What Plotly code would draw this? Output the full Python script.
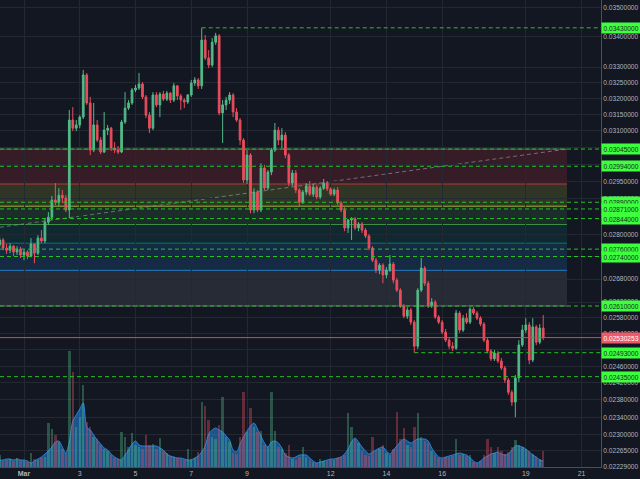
import numpy as np
import pandas as pd
import plotly.graph_objects as go

# ---------------- data (prices in units of 1e-5) ----------------
PRICE_UNIT = 1e-5
START = "2018-02-28 03:00"
FREQ = "3h"
first_open = 2771

close_ = [
    2785, 2763, 2757, 2768, 2752, 2760, 2744, 2752, 2741, 2774,
    2749, 2790, 2782, 2834, 2848, 2896, 2890, 2910, 2902, 2868,
    3133, 3108, 3118, 3142, 3275, 3186, 3042, 3118, 3072, 3036,
    3102, 3108, 3048, 3042, 3036, 3127, 3170, 3186, 3227, 3233,
    3246, 3205, 3148, 3108, 3211, 3180, 3214, 3198, 3217, 3195,
    3240, 3208, 3195, 3189, 3211, 3249, 3259, 3240, 3389, 3330,
    3307, 3382, 3403, 3155, 3180, 3195, 3211, 3158, 3133, 3072,
    2954, 3027, 2868, 2919, 2868, 2989, 2931, 2977, 3042, 3102,
    3072, 3087, 3027, 2945, 2974, 2925, 2890, 2919, 2936, 2913,
    2933, 2905, 2930, 2945, 2928, 2913, 2925, 2888, 2868, 2818,
    2840, 2843, 2818, 2829, 2812, 2796, 2763, 2730, 2704, 2717,
    2691, 2704, 2720, 2677, 2651, 2610, 2584, 2600, 2569, 2509,
    2651, 2709, 2669, 2612, 2620, 2582, 2569, 2544, 2524, 2509,
    2504, 2592, 2549, 2579, 2569, 2602, 2592, 2579, 2564, 2524,
    2497, 2478, 2492, 2473, 2456, 2427, 2398, 2375, 2432, 2512,
    2549, 2562, 2475, 2557, 2519, 2554, 2530,
]
high_ = [
    2796, 2790, 2774, 2776, 2771, 2768, 2766, 2760, 2757, 2790,
    2776, 2798, 2812, 2845, 2862, 2908, 2945, 2930, 2925, 2910,
    3164, 3173, 3133, 3148, 3291, 3281, 3205, 3186, 3133, 3081,
    3158, 3118, 3112, 3066, 3054, 3133, 3220, 3195, 3233, 3243,
    3281, 3252, 3211, 3158, 3220, 3220, 3220, 3224, 3224, 3220,
    3249, 3243, 3214, 3201, 3214, 3259, 3268, 3265, 3430, 3406,
    3356, 3396, 3413, 3409, 3195, 3205, 3220, 3217, 3170, 3139,
    3078, 3042, 3033, 2930, 2925, 3003, 2998, 2983, 3048, 3124,
    3112, 3108, 3096, 3033, 2983, 2983, 2930, 2925, 2945, 2951,
    2942, 2939, 2936, 2957, 2951, 2933, 2930, 2933, 2893, 2876,
    2843, 2848, 2848, 2834, 2834, 2818, 2801, 2768, 2736, 2722,
    2722, 2712, 2744, 2725, 2683, 2656, 2615, 2607, 2605, 2574,
    2656, 2736, 2714, 2675, 2630, 2625, 2587, 2574, 2552, 2529,
    2519, 2600, 2597, 2587, 2592, 2607, 2607, 2597, 2584, 2569,
    2529, 2502, 2500, 2497, 2480, 2461, 2432, 2403, 2439, 2524,
    2562, 2579, 2569, 2579, 2562, 2564, 2587,
]
low_ = [
    2763, 2757, 2747, 2749, 2741, 2744, 2736, 2730, 2733, 2738,
    2722, 2744, 2776, 2776, 2826, 2840, 2882, 2879, 2888, 2862,
    2845, 3099, 3099, 3108, 3136, 3180, 3027, 3036, 3066, 3030,
    3033, 3087, 3039, 3033, 3030, 3033, 3121, 3164, 3180, 3220,
    3227, 3198, 3139, 3093, 3102, 3173, 3142, 3192, 3192, 3186,
    3189, 3195, 3164, 3170, 3183, 3205, 3240, 3230, 3230, 3323,
    3297, 3300, 3373, 3148, 3063, 3164, 3183, 3142, 3127, 3057,
    2945, 2942, 2859, 2859, 2862, 2862, 2925, 2925, 2968, 3036,
    3057, 3048, 3018, 2936, 2936, 2916, 2879, 2885, 2910, 2908,
    2905, 2899, 2899, 2925, 2922, 2908, 2908, 2882, 2862, 2809,
    2804, 2785, 2812, 2809, 2804, 2790, 2757, 2725, 2696, 2693,
    2669, 2682, 2699, 2669, 2646, 2605, 2579, 2577, 2562, 2493,
    2502, 2646, 2662, 2605, 2605, 2577, 2564, 2539, 2519, 2502,
    2497, 2500, 2542, 2544, 2564, 2564, 2587, 2574, 2559, 2519,
    2492, 2473, 2473, 2468, 2451, 2420, 2392, 2366, 2340, 2422,
    2507, 2542, 2465, 2470, 2512, 2514, 2524,
]
volume = [
    12, 6, 7, 8, 6, 9, 7, 6, 5, 14,
    8, 7, 9, 10, 44, 38, 32, 25, 18, 14,
    116, 95, 40, 50, 82, 45, 40, 30, 28, 22,
    18, 16, 12, 9, 8, 35, 30, 20, 34, 22,
    20, 18, 32, 22, 23, 18, 29, 16, 14, 11,
    10, 9, 8, 7, 18, 8, 9, 15, 65, 61,
    47, 30, 28, 42, 70, 30, 25, 14, 13, 30,
    75, 35, 59, 40, 35, 36, 22, 20, 75, 36,
    20, 18, 14, 22, 8, 7, 10, 20, 10, 7,
    5, 4, 8, 6, 6, 7, 7, 9, 10, 12,
    54, 40, 28, 24, 16, 12, 11, 30, 16, 18,
    22, 14, 12, 18, 55, 28, 39, 22, 20, 40,
    54, 30, 26, 24, 16, 12, 9, 8, 10, 10,
    11, 28, 12, 13, 11, 12, 5, 4, 6, 12,
    28, 20, 14, 20, 16, 13, 15, 20, 27, 22,
    20, 18, 16, 13, 10, 8, 16,
]
volume_ma = [
    7, 7, 8, 8, 7, 8, 7, 7, 6, 4,
    6, 8, 10, 13, 16, 20, 25, 26, 20, 14,
    25, 46, 52, 58, 64, 40, 37, 32, 27, 23,
    19, 17, 13, 10, 8, 7, 12, 17, 23, 26,
    22, 21, 21, 21, 21, 21, 19, 17, 13, 11,
    10, 9, 9, 8, 7, 7, 9, 11, 15, 21,
    33, 37, 39, 37, 35, 31, 27, 17, 15, 23,
    30, 36, 41, 44, 38, 31, 24, 20, 25, 26,
    24, 19, 12, 10, 9, 10, 12, 12, 12, 9,
    6, 4, 5, 6, 7, 8, 8, 9, 10, 13,
    18, 25, 29, 25, 20, 16, 13, 15, 17, 19,
    20, 16, 13, 17, 21, 25, 28, 26, 24, 26,
    28, 28, 28, 26, 19, 14, 10, 9, 10, 11,
    12, 13, 14, 13, 12, 9, 6, 4, 6, 9,
    11, 13, 14, 15, 13, 12, 13, 17, 21, 21,
    20, 18, 15, 12, 10, 7, 6,
]
VOL_AXIS_MAX = 467

LAST_PRICE = 0.02530253
MARK_LEVELS = [0.0343, 0.03045, 0.02994, 0.0289, 0.02871, 0.02844,
               0.0276, 0.0274, 0.0261, 0.02493, 0.02435]
FIB_TOP = 0.03045
FIB_BOTTOM = 0.0261
FIB_RATIOS = [0, 0.236, 0.382, 0.5, 0.618, 0.786, 1]
FIB_COLORS = [(120, 123, 134), (242, 54, 69), (205, 220, 57), (76, 175, 80),
              (0, 150, 136), (33, 150, 243), (120, 123, 134)]
FIB_END = "2018-03-20 11:30"
TREND_START_PRICE = 0.0282

Y_TICKS = [0.035, 0.034, 0.033, 0.0325, 0.032, 0.0315, 0.031, 0.0305, 0.030,
           0.0295, 0.029, 0.028, 0.0274, 0.0268, 0.0262, 0.0258, 0.0254, 0.025,
           0.0246, 0.0242, 0.0238, 0.0234, 0.023, 0.02265, 0.02229]
# ticks whose labels sit fully under a level marker (grid line only)
Y_TICKS_COVERED = [0.0305, 0.030, 0.0274, 0.025]
X_TICK_DATES = ["2018-03-01", "2018-03-03", "2018-03-05", "2018-03-07", "2018-03-09",
                "2018-03-12", "2018-03-14", "2018-03-16", "2018-03-19", "2018-03-21"]
X_TICK_TEXT = ["<b>Mar</b>", "3", "5", "7", "9", "12", "14", "16", "19", "21"]
X_RANGE = ["2018-02-28 03:20", "2018-03-21 16:45"]
Y_RANGE = [0.022283, 0.03525]

# ---------------- build ----------------
times = pd.date_range(START, periods=len(close_), freq=FREQ)
c = np.array(close_, float) * PRICE_UNIT
o = np.array([first_open] + close_[:-1], float) * PRICE_UNIT
h = np.array(high_, float) * PRICE_UNIT
l = np.array(low_, float) * PRICE_UNIT

UP = "#53b987"
DOWN = "#eb4d5c"
BG = "#131722"
GRID = "#242833"
MARK_GREEN = "#24c324"

vol_colors = ["rgba(83,185,135,0.38)" if cc >= oo else "rgba(235,77,92,0.38)"
              for oo, cc in zip(o, c)]

fig = go.Figure()
fig.add_trace(go.Candlestick(
    x=times, open=o, high=h, low=l, close=c,
    increasing=dict(line=dict(color=UP, width=1), fillcolor=UP),
    decreasing=dict(line=dict(color=DOWN, width=1), fillcolor=DOWN),
    whiskerwidth=0, hoverinfo="skip",
))
# current price line
fig.add_trace(go.Scatter(
    x=X_RANGE, y=[LAST_PRICE, LAST_PRICE], mode="lines",
    line=dict(color="#e8404f", width=1), hoverinfo="skip",
))
fig.add_trace(go.Scatter(
    x=times, y=volume_ma, yaxis="y2", mode="lines", fill="tozeroy",
    line=dict(color="rgba(41,140,230,0.9)", width=1, shape="spline", smoothing=0.8),
    fillcolor="rgba(33,150,243,0.5)", hoverinfo="skip",
))
fig.add_trace(go.Bar(
    x=times, y=volume, yaxis="y3", marker=dict(color=vol_colors, line=dict(width=0)),
    width=3 * 3600 * 1000 * 0.7, hoverinfo="skip",
))

shapes = []
fib_prices = [FIB_TOP - r * (FIB_TOP - FIB_BOTTOM) for r in FIB_RATIOS]
band_alpha = [0.16, 0.16, 0.15, 0.15, 0.16, 0.2]
for k in range(len(fib_prices) - 1):
    r, g, b = FIB_COLORS[k + 1]
    shapes.append(dict(type="rect", xref="x", yref="y", x0="2018-02-20", x1=FIB_END,
                       y0=fib_prices[k], y1=fib_prices[k + 1],
                       fillcolor=f"rgba({r},{g},{b},{band_alpha[k]})",
                       line=dict(width=0), layer="below"))
for p, (r, g, b) in zip(fib_prices, FIB_COLORS):
    shapes.append(dict(type="line", xref="x", yref="y", x0="2018-02-20", x1=FIB_END,
                       y0=p, y1=p, line=dict(color=f"rgba({r},{g},{b},0.75)", width=1),
                       layer="below"))
shapes.append(dict(type="line", xref="x", yref="y", x0=X_RANGE[0], x1=FIB_END,
                   y0=TREND_START_PRICE, y1=FIB_TOP,
                   line=dict(color="rgba(140,143,154,0.7)", width=1, dash="4px,3px"),
                   layer="below"))
# marked levels
starts = {0.0343: times[58], 0.02493: times[119]}
for v in MARK_LEVELS:
    if v in starts:
        shapes.append(dict(type="line", xref="x", yref="y", x0=starts[v], x1=X_RANGE[1],
                           y0=v, y1=v, line=dict(color=MARK_GREEN, width=1, dash="4px,3px")))
    else:
        shapes.append(dict(type="line", xref="paper", yref="y", x0=0, x1=1,
                           y0=v, y1=v, line=dict(color=MARK_GREEN, width=1, dash="4px,3px")))

annotations = []
for v in MARK_LEVELS:
    annotations.append(dict(x=1, xref="paper", xanchor="left", y=np.log10(v), yref="y",
                            text=f"{v:.8f}", showarrow=False, bgcolor="#3dff3d",
                            font=dict(color="#1b1f2a", size=6.6, family="Liberation Sans"),
                            borderpad=1.5))
annotations.append(dict(x=1, xref="paper", xanchor="left", y=np.log10(LAST_PRICE), yref="y",
                        text=f"{LAST_PRICE:.8f}", showarrow=False, bgcolor="#f0596a",
                        font=dict(color="#ffffff", size=6.6, family="Liberation Sans"),
                        borderpad=1.5))

fig.update_layout(
    width=640, height=479,
    margin=dict(l=0, r=39, t=0, b=12),
    paper_bgcolor=BG, plot_bgcolor=BG,
    showlegend=False,
    font=dict(family="Liberation Sans", size=7, color="#b2b5be"),
    xaxis=dict(type="date", range=X_RANGE, tickvals=X_TICK_DATES, ticktext=X_TICK_TEXT,
               showgrid=True, gridcolor=GRID, gridwidth=1, showline=True,
               linecolor="#4b4f5a", ticks="", zeroline=False,
               rangeslider=dict(visible=False), tickfont=dict(size=7, color="#b2b5be")),
    yaxis=dict(type="log", side="right", range=[np.log10(Y_RANGE[0]), np.log10(Y_RANGE[1])],
               tickvals=Y_TICKS,
               ticktext=["" if v in Y_TICKS_COVERED else f"{v:.8f}" for v in Y_TICKS],
               showgrid=True, gridcolor=GRID, showline=True, linecolor="#4b4f5a",
               ticks="", zeroline=False, tickfont=dict(size=6.6, color="#b2b5be")),
    yaxis2=dict(overlaying="y", range=[0, VOL_AXIS_MAX], visible=False, fixedrange=True),
    yaxis3=dict(overlaying="y", range=[0, VOL_AXIS_MAX], visible=False, fixedrange=True),
    shapes=shapes, annotations=annotations,
    bargap=0,
)

fig.write_html("out.html",
               config={"displayModeBar": False},
               post_script="document.body.style.margin='0';document.body.style.background='#131722';")
